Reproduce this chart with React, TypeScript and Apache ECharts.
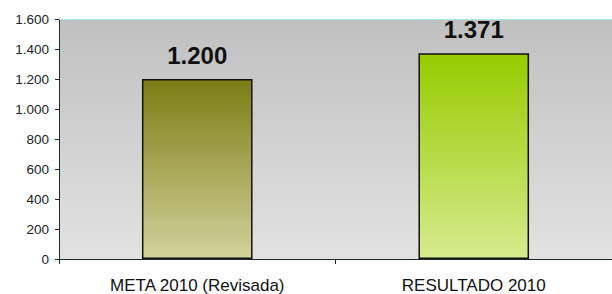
import React, { useEffect, useRef } from "react";
import * as echarts from "echarts";

const categories = ["META 2010 (Revisada)", "RESULTADO 2010"];
const values = [1200, 1371];
const yTicks = [0, 200, 400, 600, 800, 1000, 1200, 1400, 1600];

const barColors = [
  ["#7d7d14", "#d2d29c"],
  ["#97cb00", "#d5eb8e"],
];

const fmt = (v: number) => String(v).replace(/\B(?=(\d{3})+(?!\d))/g, ".");

export default function App() {
  const ref = useRef<HTMLDivElement>(null);
  useEffect(() => {
    if (!ref.current) return;
    const chart = echarts.init(ref.current, undefined, { renderer: "svg" });
    chart.setOption({
      animation: false,
      textStyle: { fontFamily: "Liberation Sans, Arial, sans-serif" },
      grid: {
        left: 59,
        right: 0,
        top: 19,
        bottom: 35,
        show: true,
        borderWidth: 0,
        backgroundColor: new echarts.graphic.LinearGradient(0, 0, 0, 1, [
          { offset: 0, color: "#c0c0c0" },
          { offset: 1, color: "#e2e2e2" },
        ]),
      },
      xAxis: [
        {
          type: "category",
          data: categories,
          position: "bottom",
          axisLine: { lineStyle: { color: "#1c2c2c", width: 1 } },
          axisTick: { show: true, length: 5, lineStyle: { color: "#1c2c2c" } },
          axisLabel: { color: "#111", fontSize: 17, margin: 18 },
        },
        {
          type: "category",
          data: categories,
          position: "top",
          axisLine: { lineStyle: { color: "#a8e4e4", width: 1 } },
          axisTick: { show: false },
          axisLabel: { show: false },
        },
      ],
      yAxis: {
        type: "value",
        min: yTicks[0],
        max: yTicks[yTicks.length - 1],
        interval: 200,
        axisLine: { show: true, lineStyle: { color: "#1c2c2c", width: 1 } },
        axisTick: { show: true, length: 4, lineStyle: { color: "#1c2c2c" } },
        axisLabel: { color: "#222", fontSize: 13.5, margin: 10, formatter: (v: number) => fmt(v) },
        splitLine: { show: false },
      },
      series: [
        {
          type: "bar",
          xAxisIndex: 0,
          barWidth: "40%",
          data: values.map((v, i) => ({
            value: v,
            itemStyle: {
              color: new echarts.graphic.LinearGradient(0, 0, 0, 1, [
                { offset: 0, color: barColors[i][0] },
                { offset: 1, color: barColors[i][1] },
              ]),
              borderColor: "#111",
              borderWidth: 1.5,
            },
          })),
          label: {
            show: true,
            position: "top",
            distance: 12,
            fontSize: 24,
            fontWeight: "bold",
            color: "#111",
            formatter: (p: any) => fmt(p.value),
          },
        },
      ],
    });
    return () => chart.dispose();
  }, []);
  return <div ref={ref} style={{ width: 612, height: 294, position: "absolute", left: 0, top: 0 }} />;
}
